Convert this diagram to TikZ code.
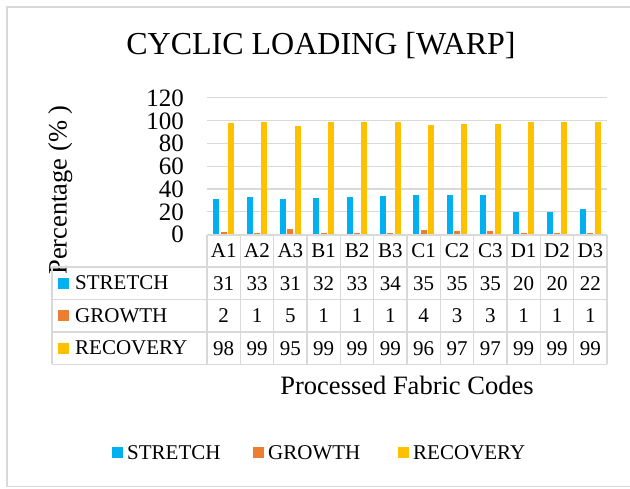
\documentclass[tikz,border=0pt]{standalone}
\usepackage{fontspec}
\setmainfont{Liberation Serif}
\definecolor{cblue}{HTML}{00B0F0}
\definecolor{corange}{HTML}{ED7D31}
\definecolor{cyellow}{HTML}{FFC000}
\definecolor{gridgray}{HTML}{D9D9D9}
\begin{document}
\begin{tikzpicture}[x=1pt,y=-1pt,
  gridline/.style={gridgray,line width=1.2pt},
  tableline/.style={gridgray,line width=1.4pt},
  frameline/.style={gridgray,line width=1.4pt},
  ticklabel/.style={font=\fontsize{25}{25}\selectfont,inner sep=0pt,anchor=east},
  cell/.style={font=\fontsize{21}{21}\selectfont,inner sep=0pt},
  rowlabel/.style={font=\fontsize{21}{21}\selectfont,inner sep=0pt,anchor=west},
  legendtext/.style={font=\fontsize{21}{21}\selectfont,inner sep=0pt,anchor=base west},
  axistitle/.style={font=\fontsize{26.5}{26.5}\selectfont,inner sep=0pt,anchor=base},
  charttitle/.style={font=\fontsize{32}{32}\selectfont,inner sep=0pt,anchor=base},
  keybox/.style={minimum size=11pt,inner sep=0pt,draw=none}
]
\useasboundingbox (0,0) rectangle (630,488);
\fill[white] (0,0) rectangle (630,488);

% outer chart frame
\draw[frameline] (640,7) -- (7,7) -- (7,486.5) -- (640,486.5);

% title
\node[charttitle] (title) at (321,54) {CYCLIC LOADING [WARP]};

% horizontal grid and value axis
\foreach \v in {20,40,...,120}
  \draw[gridline] (207,{234.5-1.139*\v}) -- (607,{234.5-1.139*\v});
\foreach \v in {0,20,...,120}
  \node[ticklabel] (tick\v) at (184,{234.8-1.139*\v}) {\v};

\node[axistitle,rotate=90] (ytitle) at (66.5,190) {Percentage (\% )};

% bars: stretch, growth, recovery per fabric code
\foreach \s/\g/\r [count=\i from 0] in
  {31/2/98,33/1/99,31/5/95,32/1/99,33/1/99,34/1/99,35/4/96,35/3/97,35/3/97,20/1/99,20/1/99,22/1/99}{
  \pgfmathsetmacro{\xl}{207+33.333*\i}
  \fill[cblue]   ({\xl+6.3},234.5) rectangle ({\xl+12.3},{234.5-1.139*\s});
  \fill[corange] ({\xl+13.8},234.5) rectangle ({\xl+19.8},{234.5-1.139*\g});
  \fill[cyellow] ({\xl+21},234.5) rectangle ({\xl+27},{234.5-1.139*\r});
}

% data table grid
\draw[tableline,line width=2pt] (207,234.5) -- (607,234.5);
\foreach \y in {267,299.3,332,364.3}
  \draw[tableline] (52,\y) -- (607,\y);
\draw[tableline] (52,267) -- (52,364.3);
\foreach \i in {0,...,12}
  \draw[tableline] ({207+33.333*\i},234.5) -- ({207+33.333*\i},364.3);

% column headers and values
\foreach \c/\s/\g/\r [count=\i from 0] in
  {A1/31/2/98,A2/33/1/99,A3/31/5/95,B1/32/1/99,B2/33/1/99,B3/34/1/99,
   C1/35/4/96,C2/35/3/97,C3/35/3/97,D1/20/1/99,D2/20/1/99,D3/22/1/99}{
  \node[cell] (h\c) at ({223.67+33.333*\i},251) {\c};
  \node[cell] (s\c) at ({223.67+33.333*\i},283.2) {\s};
  \node[cell] (g\c) at ({223.67+33.333*\i},315.7) {\g};
  \node[cell] (r\c) at ({223.67+33.333*\i},348.2) {\r};
}

% row labels with series keys
\node[keybox,fill=cblue]   (kS) at (63.8,283) {};
\node[rowlabel] (lS) at (75,283) {STRETCH};
\node[keybox,fill=corange] (kG) at (63.8,315.6) {};
\node[rowlabel] (lG) at (75,315.6) {GROWTH};
\node[keybox,fill=cyellow] (kR) at (63.8,348.2) {};
\node[rowlabel] (lR) at (75,348.2) {RECOVERY};

\node[axistitle] (xtitle) at (407,394.3) {Processed Fabric Codes};

% legend
\node[keybox,fill=cblue]   (legS) at (117.3,452.5) {};
\node[legendtext] (legSt) at (127,459.5) {STRETCH};
\node[keybox,fill=corange] (legG) at (258.5,452.5) {};
\node[legendtext] (legGt) at (268,459.5) {GROWTH};
\node[keybox,fill=cyellow] (legR) at (403.5,452.5) {};
\node[legendtext] (legRt) at (413,459.5) {RECOVERY};
\end{tikzpicture}
\end{document}
